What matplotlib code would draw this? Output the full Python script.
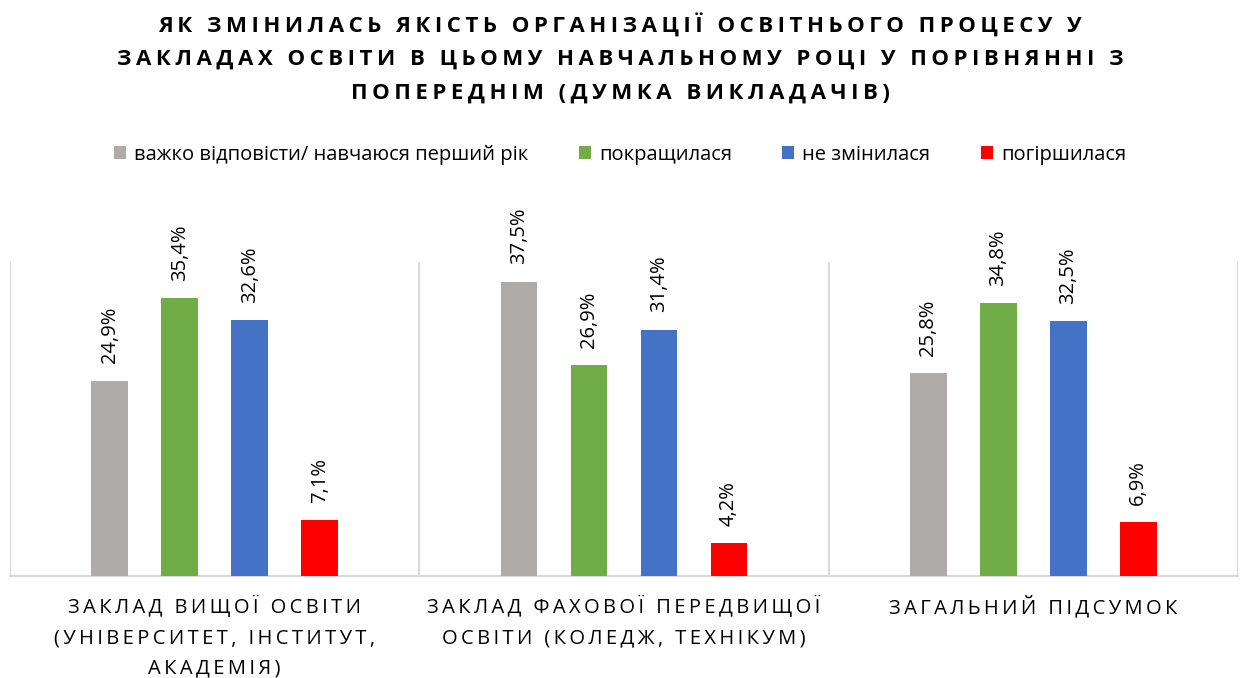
import numpy as np
import matplotlib.pyplot as plt

plt.rcParams['font.family'] = ['Open Sans', 'DejaVu Sans']

categories = [
    "ЗАКЛАД ВИЩОЇ ОСВІТИ\n(УНІВЕРСИТЕТ, ІНСТИТУТ,\nАКАДЕМІЯ)",
    "ЗАКЛАД ФАХОВОЇ ПЕРЕДВИЩОЇ\nОСВІТИ (КОЛЕДЖ, ТЕХНІКУМ)",
    "ЗАГАЛЬНИЙ ПІДСУМОК",
]
series_names = [
    "важко відповісти/ навчаюся перший рік",
    "покращилася",
    "не змінилася",
    "погіршилася",
]
hard_to_say = [24.9, 37.5, 25.8]
improved = [35.4, 26.9, 34.8]
unchanged = [32.6, 31.4, 32.5]
worse = [7.1, 4.2, 6.9]
colors = ["#AFABAB", "#70AD47", "#4472C4", "#FF0000"]

title = ("ЯК ЗМІНИЛАСЬ ЯКІСТЬ ОРГАНІЗАЦІЇ ОСВІТНЬОГО ПРОЦЕСУ У\n"
         "ЗАКЛАДАХ ОСВІТИ В ЦЬОМУ НАВЧАЛЬНОМУ РОЦІ У ПОРІВНЯННІ З\n"
         "ПОПЕРЕДНІМ (ДУМКА ВИКЛАДАЧІВ)")


def spaced(text, sep="\u2009"):
    # imitate Excel character spacing
    lines = []
    for line in text.split("\n"):
        lines.append(sep.join(line))
    return "\n".join(lines)


fig = plt.figure(figsize=(12.4, 6.78), dpi=100)
ax = fig.add_axes([10 / 1240, 102 / 678, 1228 / 1240, 314 / 678])

x = np.arange(len(categories))
step = 0.171
width = 0.09
all_series = [hard_to_say, improved, unchanged, worse]
handles = []
for i, vals in enumerate(all_series):
    pos = x + (i - 1.5) * step
    b = ax.bar(pos, vals, width, color=colors[i], label=series_names[i], zorder=3)
    handles.append(b)
    for p, v in zip(pos, vals):
        ax.text(p, v + 2.2, ("%.1f%%" % v).replace(".", ","), rotation=90,
                ha="center", va="bottom", fontsize=14.5, color="#000000",
                clip_on=False)

ax.set_xlim(-0.5, 2.5)
ax.set_ylim(0, 40)
ax.set_yticks([])
for b in [-0.5, 0.5, 1.5, 2.5]:
    ax.axvline(b, color="#D9D9D9", lw=1.5, zorder=1)
for s in ["left", "right", "top"]:
    ax.spines[s].set_visible(False)
ax.spines["bottom"].set_color("#D9D9D9")
ax.spines["bottom"].set_linewidth(1.5)
ax.set_xticks(x)
ax.set_xticklabels([spaced(c) for c in categories], fontsize=14.5, linespacing=1.7)
ax.tick_params(axis="x", length=0, pad=14)

fig.text(0.5, 0.982, spaced(title), ha="center", va="top", fontsize=16,
         fontweight="bold", linespacing=1.8)
fig.legend(handles=handles, loc="center", bbox_to_anchor=(0.5, 0.772), ncol=4,
           frameon=False, fontsize=14.5, handlelength=0.6, handleheight=0.6,
           handletextpad=0.4, columnspacing=2.5)

plt.savefig("out.png", dpi=100)
